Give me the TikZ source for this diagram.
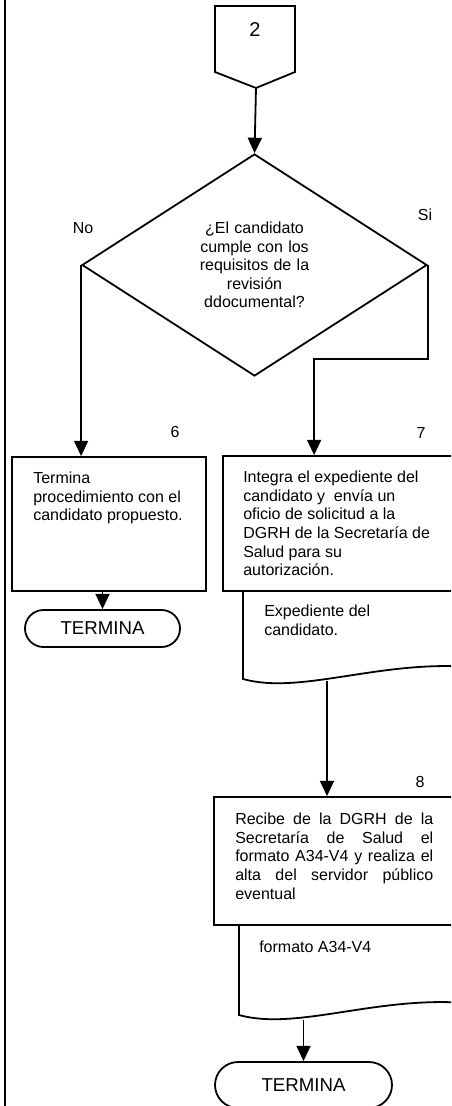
\documentclass[tikz,border=0pt]{standalone}
\usepackage{fontspec}
\setmainfont{Liberation Sans}
\usetikzlibrary{arrows.meta,positioning,calc,shapes.geometric,shapes.misc}

\begin{document}
\begin{tikzpicture}[x=0.75pt,y=-0.75pt,
    linea/.style={line width=1.35pt},
    flecha/.style={linea,-{Triangle[length=11.5pt,width=10.5pt]}},
    caja/.style={draw,linea,inner sep=0pt},
    txt/.style={inner sep=0pt,anchor=north west,align=left,
                font=\fontsize{12pt}{13.9pt}\selectfont},
    etq/.style={inner sep=0pt,font=\fontsize{12pt}{13.9pt}\selectfont},
    fin/.style={draw,linea,rounded rectangle,inner sep=0pt,
                font=\fontsize{14pt}{16pt}\selectfont}]
  \useasboundingbox (0,0) rectangle (451,1106);
  \clip (0,0) rectangle (451,1106);
  \draw[line width=2pt] (5,0) -- (5,1106);

  \draw[linea] (215,6) -- (295,6) -- (295,72) -- (256,88) coordinate (c2)
    -- (215,72) -- cycle;
  \node[etq,font=\fontsize{15pt}{18pt}\selectfont] (n2) at (255,30) {2};

  \node[caja,diamond,minimum width=258.75pt,minimum height=166.5pt,
        text width=90pt,align=center,font=\fontsize{12pt}{13.9pt}\selectfont]
        (dec) at (254.5,265)
        {¿El candidato\\cumple con los\\requisitos de la\\revisión\\ddocumental?};
  \node[etq] (no) at (83,228) {No};
  \node[etq] (si) at (425,215) {Si};
  \draw[flecha] (c2) -- (dec.north);

  \node[caja,minimum width=145.5pt,minimum height=100.5pt] (b6) at (109,524) {};
  \node[txt] (t6) at (33,472) {Termina\\procedimiento con el\\candidato propuesto.};
  \node[etq] (n6) at (175,432) {6};

  \node[caja,minimum width=185.25pt,minimum height=101.25pt] (b7) at (346.5,523.5) {};
  \node[txt] (t7) at (243,471) {Integra el expediente del\\candidato y\ \ envía un\\
    oficio de solicitud a la\\DGRH de la Secretaría de\\Salud para su\\autorización.};
  \node[etq] (n7) at (421,433) {7};

  \draw[flecha] (dec.west) -- (dec.west |- b6.north);
  \draw[flecha] (dec.east) -- ++(0,94) -| ([xshift=69pt]b7.north west);

  \node[fin,minimum width=116.25pt,minimum height=27.75pt] (f6) at (102.5,628.5) {TERMINA};
  \draw[flecha] (f6.north |- b6.south) -- (f6.north);

  \draw[linea] (243,591) -- (243,679) .. controls (300,695) and (380,660) .. (470,667);
  \coordinate (d7) at (327,681);
  \node[txt] (e7) at (264,605) {Expediente del\\candidato.};

  \node[caja,minimum width=192pt,minimum height=96pt] (b8) at (342,861) {};
  \node[txt,text width=148.5pt,align=justify] (t8) at (235,813)
    {Recibe de la DGRH de la\linebreak Secretaría de Salud el\linebreak
     formato A34-V4 y realiza el\linebreak alta del servidor público\linebreak eventual};
  \node[etq] (n8) at (420,782) {8};
  \draw[flecha] (d7) -- (d7 |- b8.north);

  \draw[linea] (239,925) -- (239,1015) .. controls (296,1031) and (376,996) .. (466,1003);
  \coordinate (d8) at (303,1020);
  \node[txt] (e8) at (259,941) {formato A34-V4};

  \node[fin,minimum width=132.75pt,minimum height=34.5pt] (f8) at (303.5,1085) {TERMINA};
  \draw[flecha] (f8.north |- d8) -- (f8.north);
\end{tikzpicture}
\end{document}
